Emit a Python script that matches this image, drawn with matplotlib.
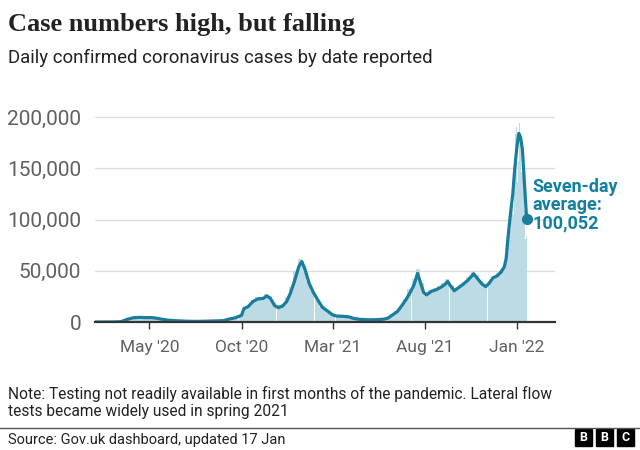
import matplotlib
matplotlib.use('Agg')
import matplotlib.pyplot as plt
import pandas as pd
from matplotlib.patches import Rectangle

# seven-day average
avg_dates = ['2020-02-01', '2020-03-01', '2020-03-15', '2020-03-25', '2020-04-05', '2020-04-15',
             '2020-04-25', '2020-05-05', '2020-05-12', '2020-05-20', '2020-06-01', '2020-06-15',
             '2020-07-01', '2020-07-15', '2020-08-01', '2020-08-15', '2020-09-01', '2020-09-10',
             '2020-09-20', '2020-10-01', '2020-10-05', '2020-10-12', '2020-10-20', '2020-10-28',
             '2020-11-06', '2020-11-12', '2020-11-18', '2020-11-25', '2020-12-01', '2020-12-08',
             '2020-12-15', '2020-12-21', '2020-12-28', '2021-01-04', '2021-01-09', '2021-01-14',
             '2021-01-21', '2021-01-28', '2021-02-04', '2021-02-12', '2021-02-20', '2021-03-01',
             '2021-03-08', '2021-03-20', '2021-03-28', '2021-04-05', '2021-04-15', '2021-05-01',
             '2021-05-15', '2021-05-25', '2021-06-01', '2021-06-10', '2021-06-17', '2021-06-24',
             '2021-07-01', '2021-07-08', '2021-07-14', '2021-07-20', '2021-07-24', '2021-07-30',
             '2021-08-04', '2021-08-12', '2021-08-20', '2021-08-28', '2021-09-03', '2021-09-08',
             '2021-09-13', '2021-09-19', '2021-09-26', '2021-10-04', '2021-10-12', '2021-10-21',
             '2021-10-28', '2021-11-04', '2021-11-10', '2021-11-16', '2021-11-22', '2021-11-29',
             '2021-12-06', '2021-12-11', '2021-12-14', '2021-12-17', '2021-12-21', '2021-12-25',
             '2021-12-28', '2022-01-01', '2022-01-04', '2022-01-07', '2022-01-10', '2022-01-13',
             '2022-01-17']
avg_cases = [0, 30, 300, 2500, 4200, 4500,
             4300, 4300, 3800, 2900, 1800, 1200,
             800, 600, 750, 1000, 1300, 2800,
             4000, 6500, 13000, 15000, 20000, 22500,
             23000, 25500, 23000, 16000, 14000, 15500,
             20000, 28000, 40000, 54000, 59000, 52000,
             38000, 29000, 22000, 14500, 11000, 7000,
             5800, 5500, 5000, 3500, 2600, 2100,
             2300, 2800, 3800, 7500, 10500, 16000,
             22000, 29000, 36000, 47500, 40000, 29000,
             26500, 30000, 31500, 34000, 36500, 39500,
             35000, 30500, 33500, 37000, 41000, 47000,
             42000, 37000, 34500, 38000, 43000, 45000,
             49000, 54000, 62000, 82000, 105000, 125000,
             148000, 172000, 184000, 180000, 168000, 138000,
             100052]

# daily cases: one bar per week up to early Dec 2021 ...
week_start = '2020-02-01'
weekly_cases = [0, 0, 0, 5, 40, 150, 500, 1500, 3000, 4800,
                5000, 4800, 4900, 4500, 3700, 3000, 2300, 1700, 1400, 1200,
                1000, 800, 650, 650, 700, 800, 900, 1000, 1100, 1300,
                1700, 3000, 3800, 4800, 7000, 15000, 17000, 21000, 24000, 24500,
                27000, 25000, 18500, 16500, 18000, 24000, 34000, 50000, 61000, 54000,
                40000, 30000, 21000, 15000, 12000, 9000, 7000, 6300, 6000, 5800,
                4500, 3200, 2800, 2600, 2400, 2300, 2500, 2800, 3400, 5000,
                7500, 10000, 14000, 22000, 32000, 42000, 52000, 38000, 28500, 31000,
                33000, 35000, 38000, 42000, 36000, 33000, 36000, 39000, 44000, 50000,
                46000, 40000, 37000, 40000, 45000, 48000, 52000]
# ... then one bar per day
day_start = '2021-12-11'
daily_cases = [54000, 48000, 54000, 59000, 78000, 88000, 93000, 90000, 82000, 91000,
               90000, 106000, 119000, 122000, 110000, 105000, 98000, 129000, 183000, 189000,
               190000, 162000, 137000, 157000, 218000, 194000, 179000, 178000, 146000, 141000,
               142000, 120000, 130000, 109000, 99000, 81000, 70000, 84000]

tick_dates = ['2020-05-01', '2020-10-01', '2021-03-01', '2021-08-01', '2022-01-01']
tick_labels = ["May '20", "Oct '20", "Mar '21", "Aug '21", "Jan '22"]
y_ticks = [0, 50000, 100000, 150000, 200000]

line_col = '#1a7d9c'
bar_col = '#bcdbe5'

plt.rcParams['font.family'] = ['Roboto', 'DejaVu Sans']

fig = plt.figure(figsize=(6.4, 4.5), dpi=100)
ax = fig.add_axes([95 / 640, 1 - 322 / 450, 460 / 640, 230.6 / 450])

weeks = pd.date_range(week_start, periods=len(weekly_cases), freq='7D')
days = pd.date_range(day_start, periods=len(daily_cases), freq='D')
ax.bar(weeks + pd.Timedelta(days=3.5), weekly_cases, width=6.8, color=bar_col, linewidth=0)
ax.bar(days, daily_cases, width=1.0, color=bar_col, linewidth=0)

d = pd.to_datetime(avg_dates)
ax.plot(d, avg_cases, color=line_col, lw=2.3, solid_joinstyle='round', solid_capstyle='round')
ax.plot(d[-1], avg_cases[-1], 'o', color=line_col, ms=7)
ax.annotate('Seven-day\naverage:\n{:,}'.format(avg_cases[-1]), xy=(d[-1], avg_cases[-1]),
            xytext=(6, -13), textcoords='offset pixels', ha='left', va='bottom',
            color='#1380a1', fontsize=13, fontweight='bold', linespacing=1.02)

ax.set_xlim(pd.Timestamp('2020-02-01'), pd.Timestamp('2022-03-05'))
ax.set_ylim(0, 225000)
ax.set_yticks(y_ticks)
ax.set_yticklabels(['{:,}'.format(v) for v in y_ticks])
ax.set_xticks(pd.to_datetime(tick_dates))
ax.set_xticklabels(tick_labels)

ax.grid(axis='y', color='#dcdcdc', lw=1)
ax.set_axisbelow(True)
for s in ['top', 'right', 'left']:
    ax.spines[s].set_visible(False)
ax.spines['bottom'].set_color('#333333')
ax.spines['bottom'].set_linewidth(1.6)
ax.spines['bottom'].set_zorder(5)
ax.tick_params(axis='y', length=0, pad=10, labelsize=15, labelcolor='#606060')
ax.tick_params(axis='x', length=5, width=1, color='#333333', pad=8, labelsize=12.5,
               labelcolor='#606060')

fig.text(8 / 640, 1 - 31 / 450, 'Case numbers high, but falling', fontsize=19,
         fontweight='bold', family='Liberation Serif', color='#222222', va='baseline')
fig.text(8 / 640, 1 - 63 / 450, 'Daily confirmed coronavirus cases by date reported',
         fontsize=13.4, color='#222222', va='baseline')
fig.text(8 / 640, 1 - 416 / 450, 'Note: Testing not readily available in first months of the pandemic. Lateral flow\ntests became widely used in spring 2021',
         fontsize=11.2, color='#222222', va='baseline', linespacing=1.2)
fig.text(8 / 640, 1 - 444 / 450, 'Source: Gov.uk dashboard, updated 17 Jan',
         fontsize=10.5, color='#222222', va='baseline')
fig.add_artist(plt.Line2D([0, 1], [1 - 428 / 450] * 2, color='#555555', lw=1))

# BBC blocks
for i, letter in enumerate('BBC'):
    x0 = (575 + i * 21) / 640
    fig.add_artist(Rectangle((x0, 1 - 446 / 450), 17 / 640, 17 / 450, color='black'))
    fig.text(x0 + 8.5 / 640, 1 - 437.5 / 450, letter, color='white', fontsize=9,
             fontweight='bold', ha='center', va='center')

fig.savefig('out.png', dpi=100)
